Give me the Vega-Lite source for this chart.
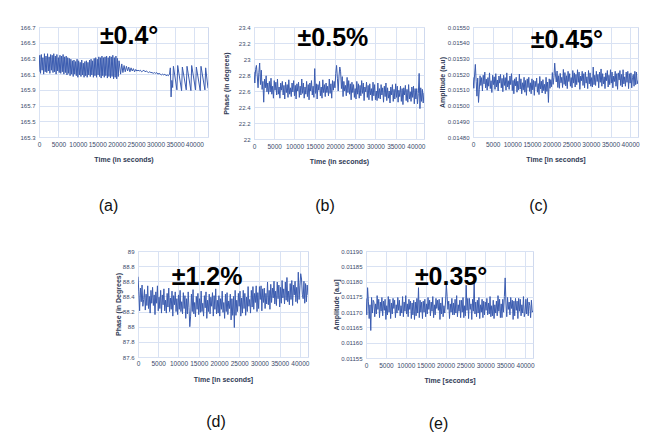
{
"$schema": "https://vega.github.io/schema/vega-lite/v6.json",
"padding": {"left": 19, "top": 23, "right": 0, "bottom": 0},
"background": "white",
"config": {
  "view": {"stroke": "#cfd9ee", "strokeWidth": 1},
  "axis": {"grid": true, "gridColor": "#d9e2f3", "gridWidth": 1, "domain": false, "ticks": false, "tickCount": 20, "labelFont": "Liberation Sans", "labelFontSize": 6.5, "labelColor": "#3b4a6b", "labelPadding": 4, "labelFlush": false, "labelOverlap": false, "titleFont": "Liberation Sans", "titleFontSize": 7, "titleFontWeight": "bold", "titleColor": "#2f3a55"},
  "axisX": {"titlePadding": 8},
  "axisY": {"titlePadding": 3, "labelFontSize": 6},
  "title": {"orient": "bottom", "anchor": "middle", "frame": "group", "font": "Liberation Sans", "fontSize": 16, "fontWeight": "normal", "color": "#111111"},
  "text": {"font": "Liberation Sans"}
},
"datasets": {
"a": [
{"t":0,"v":166.13},{"t":200,"v":166.34},{"t":400,"v":166.11},{"t":600,"v":166.35},{"t":800,"v":166.15},{"t":1000,"v":166.31},{"t":1200,"v":166.10},{"t":1400,"v":166.36},{"t":1600,"v":166.13},{"t":1800,"v":166.33},
{"t":2000,"v":166.12},{"t":2200,"v":166.36},{"t":2400,"v":166.14},{"t":2600,"v":166.32},{"t":2800,"v":166.11},{"t":3000,"v":166.35},{"t":3200,"v":166.15},{"t":3400,"v":166.34},{"t":3600,"v":166.12},{"t":3800,"v":166.36},
{"t":4000,"v":166.13},{"t":4200,"v":166.33},{"t":4400,"v":166.10},{"t":4600,"v":166.35},{"t":4800,"v":166.14},{"t":5000,"v":166.31},{"t":5200,"v":166.12},{"t":5400,"v":166.34},{"t":5600,"v":166.11},{"t":5800,"v":166.33},
{"t":6000,"v":166.13},{"t":6200,"v":166.35},{"t":6400,"v":166.10},{"t":6600,"v":166.32},{"t":6800,"v":166.12},{"t":7000,"v":166.33},{"t":7200,"v":166.09},{"t":7400,"v":166.31},{"t":7600,"v":166.11},{"t":7800,"v":166.30},
{"t":8000,"v":166.08},{"t":8200,"v":166.29},{"t":8400,"v":166.10},{"t":8600,"v":166.27},{"t":8800,"v":166.07},{"t":9000,"v":166.28},{"t":9200,"v":166.10},{"t":9400,"v":166.26},{"t":9600,"v":166.08},{"t":9800,"v":166.29},
{"t":10000,"v":166.06},{"t":10200,"v":166.27},{"t":10400,"v":166.09},{"t":10600,"v":166.25},{"t":10800,"v":166.07},{"t":11000,"v":166.28},{"t":11200,"v":166.09},{"t":11400,"v":166.24},{"t":11600,"v":166.06},{"t":11800,"v":166.26},
{"t":12000,"v":166.08},{"t":12200,"v":166.27},{"t":12400,"v":166.06},{"t":12600,"v":166.25},{"t":12800,"v":166.09},{"t":13000,"v":166.28},{"t":13200,"v":166.07},{"t":13400,"v":166.29},{"t":13600,"v":166.09},{"t":13800,"v":166.27},
{"t":14000,"v":166.06},{"t":14200,"v":166.30},{"t":14400,"v":166.08},{"t":14600,"v":166.31},{"t":14800,"v":166.06},{"t":15000,"v":166.29},{"t":15200,"v":166.09},{"t":15400,"v":166.32},{"t":15600,"v":166.07},{"t":15800,"v":166.31},
{"t":16000,"v":166.05},{"t":16200,"v":166.33},{"t":16400,"v":166.08},{"t":16600,"v":166.31},{"t":16800,"v":166.06},{"t":17000,"v":166.32},{"t":17200,"v":166.08},{"t":17400,"v":166.33},{"t":17600,"v":166.05},{"t":17800,"v":166.31},
{"t":18000,"v":166.07},{"t":18200,"v":166.33},{"t":18400,"v":166.05},{"t":18600,"v":166.32},{"t":18800,"v":166.07},{"t":19000,"v":166.34},{"t":19200,"v":166.04},{"t":19400,"v":166.31},{"t":19600,"v":166.06},{"t":19800,"v":166.33},
{"t":20000,"v":166.04},{"t":20200,"v":166.30},{"t":20400,"v":166.07},{"t":20600,"v":166.27},{"t":21000,"v":166.10},{"t":21300,"v":166.23},{"t":21600,"v":166.12},{"t":21900,"v":166.21},{"t":22200,"v":166.13},{"t":22500,"v":166.20},{"t":22800,"v":166.14},{"t":23100,"v":166.19},{"t":23400,"v":166.13},{"t":23700,"v":166.18},{"t":24000,"v":166.14},{"t":24300,"v":166.17},{"t":24600,"v":166.13},{"t":24900,"v":166.16},{"t":25200,"v":166.14},{"t":25500,"v":166.15},{"t":25800,"v":166.14},{"t":26100,"v":166.15},{"t":26400,"v":166.13},{"t":26700,"v":166.14},{"t":27000,"v":166.15},{"t":27300,"v":166.13},{"t":27600,"v":166.14},{"t":27900,"v":166.13},{"t":28200,"v":166.12},{"t":28500,"v":166.13},{"t":28800,"v":166.12},{"t":29100,"v":166.12},{"t":29400,"v":166.11},{"t":29700,"v":166.12},{"t":30000,"v":166.11},{"t":30300,"v":166.12},{"t":30600,"v":166.10},{"t":30900,"v":166.11},{"t":31200,"v":166.10},{"t":31500,"v":166.09},{"t":31800,"v":166.10},{"t":32100,"v":166.09},{"t":32400,"v":166.10},{"t":32700,"v":166.08},{"t":33000,"v":166.09},{"t":33300,"v":166.08},{"t":33600,"v":166.10},{"t":33800,"v":166.18},{"t":34000,"v":165.81},{"t":34200,"v":166.02},{"t":34400,"v":165.93},{"t":34600,"v":166.20},{"t":35500,"v":165.90},{"t":35700,"v":166.21},{"t":36700,"v":165.89},{"t":36900,"v":166.19},{"t":37900,"v":165.90},{"t":38100,"v":166.20},{"t":39100,"v":165.89},{"t":39300,"v":166.21},{"t":40300,"v":165.90},{"t":40500,"v":166.19},{"t":41500,"v":165.89},{"t":41700,"v":166.20},{"t":42700,"v":165.90},{"t":42900,"v":166.18},{"t":43500,"v":165.92}
],
"b": [
{"t":0,"v":22.84},{"t":200,"v":22.70},{"t":400,"v":22.87},{"t":600,"v":22.92},{"t":800,"v":22.79},{"t":1000,"v":22.64},{"t":1200,"v":22.83},{"t":1400,"v":22.95},{"t":1600,"v":22.68},{"t":1800,"v":22.86},
{"t":2000,"v":22.62},{"t":2200,"v":22.72},{"t":2400,"v":22.46},{"t":2600,"v":22.75},{"t":2800,"v":22.64},{"t":3000,"v":22.79},{"t":3200,"v":22.59},{"t":3400,"v":22.70},{"t":3600,"v":22.56},{"t":3800,"v":22.72},
{"t":4000,"v":22.59},{"t":4200,"v":22.76},{"t":4400,"v":22.56},{"t":4600,"v":22.66},{"t":4800,"v":22.51},{"t":5000,"v":22.73},{"t":5200,"v":22.61},{"t":5400,"v":22.71},{"t":5600,"v":22.55},{"t":5800,"v":22.75},
{"t":6000,"v":22.56},{"t":6200,"v":22.65},{"t":6400,"v":22.51},{"t":6600,"v":22.70},{"t":6800,"v":22.61},{"t":7000,"v":22.72},{"t":7200,"v":22.55},{"t":7400,"v":22.67},{"t":7600,"v":22.50},{"t":7800,"v":22.71},
{"t":8000,"v":22.58},{"t":8200,"v":22.68},{"t":8400,"v":22.52},{"t":8600,"v":22.74},{"t":8800,"v":22.56},{"t":9000,"v":22.64},{"t":9200,"v":22.53},{"t":9400,"v":22.70},{"t":9600,"v":22.59},{"t":9800,"v":22.73},
{"t":10000,"v":22.54},{"t":10200,"v":22.67},{"t":10400,"v":22.50},{"t":10600,"v":22.69},{"t":10800,"v":22.60},{"t":11000,"v":22.71},{"t":11200,"v":22.52},{"t":11400,"v":22.66},{"t":11600,"v":22.55},{"t":11800,"v":22.75},
{"t":12000,"v":22.57},{"t":12200,"v":22.70},{"t":12400,"v":22.51},{"t":12600,"v":22.65},{"t":12800,"v":22.56},{"t":13000,"v":22.72},{"t":13200,"v":22.53},{"t":13400,"v":22.68},{"t":13600,"v":22.49},{"t":13800,"v":22.70},
{"t":14000,"v":22.60},{"t":14200,"v":22.73},{"t":14400,"v":22.55},{"t":14600,"v":22.66},{"t":14800,"v":22.52},{"t":15000,"v":22.88},{"t":15200,"v":22.57},{"t":15400,"v":22.69},{"t":15600,"v":22.50},{"t":15800,"v":22.68},
{"t":16000,"v":22.61},{"t":16200,"v":22.72},{"t":16400,"v":22.54},{"t":16600,"v":22.65},{"t":16800,"v":22.51},{"t":17000,"v":22.74},{"t":17200,"v":22.58},{"t":17400,"v":22.68},{"t":17600,"v":22.53},{"t":17800,"v":22.70},
{"t":18000,"v":22.58},{"t":18200,"v":22.66},{"t":18400,"v":22.54},{"t":18600,"v":22.75},{"t":18800,"v":22.57},{"t":19000,"v":22.69},{"t":19200,"v":22.51},{"t":19400,"v":22.73},{"t":19600,"v":22.61},{"t":19800,"v":22.72},
{"t":20000,"v":22.64},{"t":20200,"v":22.82},{"t":20400,"v":22.92},{"t":20600,"v":22.76},{"t":20800,"v":22.60},{"t":21000,"v":22.79},{"t":21200,"v":22.90},{"t":21400,"v":22.84},{"t":21600,"v":22.63},{"t":21800,"v":22.78},
{"t":22000,"v":22.53},{"t":22200,"v":22.72},{"t":22400,"v":22.60},{"t":22600,"v":22.67},{"t":22800,"v":22.54},{"t":23000,"v":22.77},{"t":23200,"v":22.58},{"t":23400,"v":22.73},{"t":23600,"v":22.56},{"t":23800,"v":22.69},
{"t":24000,"v":22.49},{"t":24200,"v":22.71},{"t":24400,"v":22.58},{"t":24600,"v":22.68},{"t":24800,"v":22.52},{"t":25000,"v":22.63},{"t":25200,"v":22.50},{"t":25400,"v":22.72},{"t":25600,"v":22.56},{"t":25800,"v":22.69},
{"t":26000,"v":22.51},{"t":26200,"v":22.67},{"t":26400,"v":22.54},{"t":26600,"v":22.73},{"t":26800,"v":22.57},{"t":27000,"v":22.70},{"t":27200,"v":22.48},{"t":27400,"v":22.65},{"t":27600,"v":22.59},{"t":27800,"v":22.71},
{"t":28000,"v":22.52},{"t":28200,"v":22.67},{"t":28400,"v":22.49},{"t":28600,"v":22.69},{"t":28800,"v":22.55},{"t":29000,"v":22.63},{"t":29200,"v":22.48},{"t":29400,"v":22.71},{"t":29600,"v":22.54},{"t":29800,"v":22.68},
{"t":30000,"v":22.49},{"t":30200,"v":22.60},{"t":30400,"v":22.48},{"t":30600,"v":22.70},{"t":30800,"v":22.51},{"t":31000,"v":22.63},{"t":31200,"v":22.50},{"t":31400,"v":22.68},{"t":31600,"v":22.55},{"t":31800,"v":22.64},
{"t":32000,"v":22.46},{"t":32200,"v":22.66},{"t":32400,"v":22.53},{"t":32600,"v":22.70},{"t":32800,"v":22.48},{"t":33000,"v":22.64},{"t":33200,"v":22.51},{"t":33400,"v":22.60},{"t":33600,"v":22.45},{"t":33800,"v":22.65},
{"t":34000,"v":22.55},{"t":34200,"v":22.68},{"t":34400,"v":22.47},{"t":34600,"v":22.62},{"t":34800,"v":22.50},{"t":35000,"v":22.69},{"t":35200,"v":22.52},{"t":35400,"v":22.66},{"t":35600,"v":22.46},{"t":35800,"v":22.61},
{"t":36000,"v":22.53},{"t":36200,"v":22.66},{"t":36400,"v":22.47},{"t":36600,"v":22.63},{"t":36800,"v":22.43},{"t":37000,"v":22.64},{"t":37200,"v":22.55},{"t":37400,"v":22.67},{"t":37600,"v":22.48},{"t":37800,"v":22.62},
{"t":38000,"v":22.46},{"t":38200,"v":22.68},{"t":38400,"v":22.50},{"t":38600,"v":22.59},{"t":38800,"v":22.47},{"t":39000,"v":22.65},{"t":39200,"v":22.52},{"t":39400,"v":22.66},{"t":39600,"v":22.44},{"t":39800,"v":22.63},
{"t":40000,"v":22.50},{"t":40200,"v":22.63},{"t":40400,"v":22.44},{"t":40600,"v":22.57},{"t":40800,"v":22.82},{"t":41000,"v":22.38},{"t":41200,"v":22.64},{"t":41400,"v":22.47},{"t":41600,"v":22.62},{"t":41800,"v":22.45},
{"t":42000,"v":22.58}
],
"c": [
{"t":0,"v":0.015180},{"t":200,"v":0.015110},{"t":400,"v":0.015195},{"t":600,"v":0.015262},{"t":800,"v":0.015155},{"t":1000,"v":0.015060},{"t":1200,"v":0.015175},{"t":1400,"v":0.015020},{"t":1600,"v":0.015100},{"t":1800,"v":0.015190},
{"t":2000,"v":0.015128},{"t":2200,"v":0.015178},{"t":2400,"v":0.015093},{"t":2600,"v":0.015193},{"t":2800,"v":0.015138},{"t":3000,"v":0.015213},{"t":3200,"v":0.015113},{"t":3400,"v":0.015168},{"t":3600,"v":0.015098},{"t":3800,"v":0.015178},
{"t":4000,"v":0.015123},{"t":4200,"v":0.015208},{"t":4400,"v":0.015108},{"t":4600,"v":0.015158},{"t":4800,"v":0.015083},{"t":5000,"v":0.015193},{"t":5200,"v":0.015133},{"t":5400,"v":0.015183},{"t":5600,"v":0.015103},{"t":5800,"v":0.015203},
{"t":6000,"v":0.015118},{"t":6200,"v":0.015163},{"t":6400,"v":0.015093},{"t":6600,"v":0.015188},{"t":6800,"v":0.015143},{"t":7000,"v":0.015198},{"t":7200,"v":0.015113},{"t":7400,"v":0.015173},{"t":7600,"v":0.015088},{"t":7800,"v":0.015193},
{"t":8000,"v":0.015128},{"t":8200,"v":0.015178},{"t":8400,"v":0.015098},{"t":8600,"v":0.015208},{"t":8800,"v":0.015118},{"t":9000,"v":0.015158},{"t":9200,"v":0.015103},{"t":9400,"v":0.015188},{"t":9600,"v":0.015133},{"t":9800,"v":0.015203},
{"t":10000,"v":0.015095},{"t":10200,"v":0.015160},{"t":10400,"v":0.015075},{"t":10600,"v":0.015170},{"t":10800,"v":0.015125},{"t":11000,"v":0.015180},{"t":11200,"v":0.015085},{"t":11400,"v":0.015155},{"t":11600,"v":0.015100},{"t":11800,"v":0.015200},
{"t":12000,"v":0.015105},{"t":12200,"v":0.015170},{"t":12400,"v":0.015075},{"t":12600,"v":0.015145},{"t":12800,"v":0.015100},{"t":13000,"v":0.015180},{"t":13200,"v":0.015085},{"t":13400,"v":0.015160},{"t":13600,"v":0.015065},{"t":13800,"v":0.015170},
{"t":14000,"v":0.015115},{"t":14200,"v":0.015180},{"t":14400,"v":0.015090},{"t":14600,"v":0.015145},{"t":14800,"v":0.015075},{"t":15000,"v":0.015170},{"t":15200,"v":0.015100},{"t":15400,"v":0.015160},{"t":15600,"v":0.015065},{"t":15800,"v":0.015155},
{"t":16000,"v":0.015120},{"t":16200,"v":0.015175},{"t":16400,"v":0.015085},{"t":16600,"v":0.015140},{"t":16800,"v":0.015070},{"t":17000,"v":0.015185},{"t":17200,"v":0.015105},{"t":17400,"v":0.015155},{"t":17600,"v":0.015080},{"t":17800,"v":0.015165},
{"t":18000,"v":0.015095},{"t":18200,"v":0.015135},{"t":18400,"v":0.015075},{"t":18600,"v":0.015180},{"t":18800,"v":0.015090},{"t":19000,"v":0.015150},{"t":19200,"v":0.015020},{"t":19400,"v":0.015170},{"t":19600,"v":0.015110},{"t":19800,"v":0.015165},
{"t":20000,"v":0.015120},{"t":20200,"v":0.015210},{"t":20400,"v":0.015135},{"t":20600,"v":0.015180},{"t":20800,"v":0.015270},{"t":21000,"v":0.015195},{"t":21200,"v":0.015150},{"t":21400,"v":0.015220},{"t":21600,"v":0.015115},{"t":21800,"v":0.015190},
{"t":22000,"v":0.015110},{"t":22200,"v":0.015205},{"t":22400,"v":0.015145},{"t":22600,"v":0.015180},{"t":22800,"v":0.015115},{"t":23000,"v":0.015230},{"t":23200,"v":0.015135},{"t":23400,"v":0.015210},{"t":23600,"v":0.015125},{"t":23800,"v":0.015190},
{"t":24000,"v":0.015108},{"t":24200,"v":0.015218},{"t":24400,"v":0.015153},{"t":24600,"v":0.015203},{"t":24800,"v":0.015123},{"t":25000,"v":0.015178},{"t":25200,"v":0.015113},{"t":25400,"v":0.015223},{"t":25600,"v":0.015143},{"t":25800,"v":0.015208},
{"t":26000,"v":0.015118},{"t":26200,"v":0.015198},{"t":26400,"v":0.015133},{"t":26600,"v":0.015228},{"t":26800,"v":0.015148},{"t":27000,"v":0.015213},{"t":27200,"v":0.015103},{"t":27400,"v":0.015188},{"t":27600,"v":0.015158},{"t":27800,"v":0.015218},
{"t":28000,"v":0.015128},{"t":28200,"v":0.015203},{"t":28400,"v":0.015113},{"t":28600,"v":0.015213},{"t":28800,"v":0.015143},{"t":29000,"v":0.015183},{"t":29200,"v":0.015108},{"t":29400,"v":0.015223},{"t":29600,"v":0.015138},{"t":29800,"v":0.015208},
{"t":30000,"v":0.015123},{"t":30200,"v":0.015178},{"t":30400,"v":0.015118},{"t":30600,"v":0.015245},{"t":30800,"v":0.015133},{"t":31000,"v":0.015193},{"t":31200,"v":0.015128},{"t":31400,"v":0.015218},{"t":31600,"v":0.015153},{"t":31800,"v":0.015198},
{"t":32000,"v":0.015113},{"t":32200,"v":0.015213},{"t":32400,"v":0.015148},{"t":32600,"v":0.015233},{"t":32800,"v":0.015123},{"t":33000,"v":0.015203},{"t":33200,"v":0.015138},{"t":33400,"v":0.015183},{"t":33600,"v":0.015108},{"t":33800,"v":0.015208},
{"t":34000,"v":0.015158},{"t":34200,"v":0.015223},{"t":34400,"v":0.015118},{"t":34600,"v":0.015193},{"t":34800,"v":0.015133},{"t":35000,"v":0.015228},{"t":35200,"v":0.015143},{"t":35400,"v":0.015213},{"t":35600,"v":0.015113},{"t":35800,"v":0.015188},
{"t":36000,"v":0.015153},{"t":36200,"v":0.015218},{"t":36400,"v":0.015123},{"t":36600,"v":0.015203},{"t":36800,"v":0.015103},{"t":37000,"v":0.015208},{"t":37200,"v":0.015163},{"t":37400,"v":0.015223},{"t":37600,"v":0.015128},{"t":37800,"v":0.015198},
{"t":38000,"v":0.015118},{"t":38200,"v":0.015228},{"t":38400,"v":0.015138},{"t":38600,"v":0.015183},{"t":38800,"v":0.015123},{"t":39000,"v":0.015213},{"t":39200,"v":0.015148},{"t":39400,"v":0.015218},{"t":39600,"v":0.015108},{"t":39800,"v":0.015203},
{"t":40000,"v":0.015143},{"t":40200,"v":0.015208},{"t":40400,"v":0.015113},{"t":40600,"v":0.015178},{"t":40800,"v":0.015198},{"t":41000,"v":0.015123},{"t":41200,"v":0.015218},{"t":41400,"v":0.015133},{"t":41600,"v":0.015213},{"t":41800,"v":0.015138},
{"t":42000,"v":0.015160}
],
"d": [
{"t":0,"v":88.66},{"t":200,"v":88.46},{"t":400,"v":88.21},{"t":600,"v":88.51},{"t":800,"v":88.33},{"t":1000,"v":88.55},{"t":1200,"v":88.27},{"t":1400,"v":88.36},{"t":1600,"v":88.49},{"t":1800,"v":88.22},
{"t":2000,"v":88.43},{"t":2200,"v":88.28},{"t":2400,"v":88.54},{"t":2600,"v":88.24},{"t":2800,"v":88.40},{"t":3000,"v":88.18},{"t":3200,"v":88.48},{"t":3400,"v":88.31},{"t":3600,"v":88.52},{"t":3800,"v":88.28},
{"t":4000,"v":88.42},{"t":4200,"v":88.16},{"t":4400,"v":88.46},{"t":4600,"v":88.31},{"t":4800,"v":88.54},{"t":5000,"v":88.21},{"t":5200,"v":88.39},{"t":5400,"v":88.24},{"t":5600,"v":88.48},{"t":5800,"v":88.18},
{"t":6000,"v":88.42},{"t":6200,"v":88.29},{"t":6400,"v":88.50},{"t":6600,"v":88.21},{"t":6800,"v":88.35},{"t":7000,"v":88.18},{"t":7200,"v":88.44},{"t":7400,"v":88.26},{"t":7600,"v":88.51},{"t":7800,"v":88.20},
{"t":8000,"v":88.38},{"t":8200,"v":88.23},{"t":8400,"v":88.47},{"t":8600,"v":88.14},{"t":8800,"v":88.41},{"t":9000,"v":88.29},{"t":9200,"v":88.46},{"t":9400,"v":88.20},{"t":9600,"v":88.37},{"t":9800,"v":88.16},
{"t":10000,"v":88.42},{"t":10200,"v":88.23},{"t":10400,"v":88.48},{"t":10600,"v":88.20},{"t":10800,"v":88.33},{"t":11000,"v":88.17},{"t":11200,"v":88.45},{"t":11400,"v":88.24},{"t":11600,"v":88.41},{"t":11800,"v":88.11},
{"t":12000,"v":88.37},{"t":12200,"v":88.17},{"t":12400,"v":88.46},{"t":12600,"v":88.25},{"t":12800,"v":88.00},{"t":13000,"v":88.14},{"t":13200,"v":88.43},{"t":13400,"v":88.20},{"t":13600,"v":88.49},{"t":13800,"v":88.17},
{"t":14000,"v":88.32},{"t":14200,"v":88.13},{"t":14400,"v":88.40},{"t":14600,"v":88.23},{"t":14800,"v":88.44},{"t":15000,"v":88.16},{"t":15200,"v":88.37},{"t":15400,"v":88.19},{"t":15600,"v":88.47},{"t":15800,"v":88.20},
{"t":16000,"v":88.31},{"t":16200,"v":88.14},{"t":16400,"v":88.41},{"t":16600,"v":88.25},{"t":16800,"v":88.46},{"t":17000,"v":88.11},{"t":17200,"v":88.35},{"t":17400,"v":88.20},{"t":17600,"v":88.43},{"t":17800,"v":88.17},
{"t":18000,"v":88.39},{"t":18200,"v":88.27},{"t":18400,"v":88.45},{"t":18600,"v":88.14},{"t":18800,"v":88.41},{"t":19000,"v":88.23},{"t":19200,"v":88.50},{"t":19400,"v":88.17},{"t":19600,"v":88.35},{"t":19800,"v":88.18},
{"t":20000,"v":88.41},{"t":20200,"v":88.14},{"t":20400,"v":88.37},{"t":20600,"v":88.23},{"t":20800,"v":88.47},{"t":21000,"v":88.19},{"t":21200,"v":88.32},{"t":21400,"v":88.11},{"t":21600,"v":88.43},{"t":21800,"v":88.20},
{"t":22000,"v":88.45},{"t":22200,"v":88.16},{"t":22400,"v":88.34},{"t":22600,"v":88.24},{"t":22800,"v":88.43},{"t":23000,"v":88.09},{"t":23200,"v":88.37},{"t":23400,"v":88.15},{"t":23600,"v":88.40},{"t":23800,"v":87.99},
{"t":24000,"v":88.48},{"t":24200,"v":88.15},{"t":24400,"v":88.35},{"t":24600,"v":88.20},{"t":24800,"v":88.44},{"t":25000,"v":88.27},{"t":25200,"v":88.47},{"t":25400,"v":88.14},{"t":25600,"v":88.38},{"t":25800,"v":88.18},
{"t":26000,"v":88.48},{"t":26200,"v":88.24},{"t":26400,"v":88.44},{"t":26600,"v":88.15},{"t":26800,"v":88.39},{"t":27000,"v":88.20},{"t":27200,"v":88.53},{"t":27400,"v":88.27},{"t":27600,"v":88.36},{"t":27800,"v":88.18},
{"t":28000,"v":88.48},{"t":28200,"v":88.26},{"t":28400,"v":88.53},{"t":28600,"v":88.23},{"t":28800,"v":88.44},{"t":29000,"v":88.32},{"t":29200,"v":88.54},{"t":29400,"v":88.20},{"t":29600,"v":88.45},{"t":29800,"v":88.24},
{"t":30000,"v":88.53},{"t":30200,"v":88.36},{"t":30400,"v":88.54},{"t":30600,"v":88.21},{"t":30800,"v":88.50},{"t":31000,"v":88.32},{"t":31200,"v":88.51},{"t":31400,"v":88.24},{"t":31600,"v":88.44},{"t":31800,"v":88.30},
{"t":32000,"v":88.59},{"t":32200,"v":88.29},{"t":32400,"v":88.48},{"t":32600,"v":88.23},{"t":32800,"v":88.56},{"t":33000,"v":88.32},{"t":33200,"v":88.51},{"t":33400,"v":88.38},{"t":33600,"v":88.60},{"t":33800,"v":88.30},
{"t":34000,"v":88.47},{"t":34200,"v":88.28},{"t":34400,"v":88.59},{"t":34600,"v":88.37},{"t":34800,"v":88.55},{"t":35000,"v":88.26},{"t":35200,"v":88.52},{"t":35400,"v":88.31},{"t":35600,"v":88.61},{"t":35800,"v":88.38},
{"t":36000,"v":88.50},{"t":36200,"v":88.30},{"t":36400,"v":88.59},{"t":36600,"v":88.35},{"t":36800,"v":88.65},{"t":37000,"v":88.33},{"t":37200,"v":88.47},{"t":37400,"v":88.29},{"t":37600,"v":88.57},{"t":37800,"v":88.36},
{"t":38000,"v":88.61},{"t":38200,"v":88.28},{"t":38400,"v":88.55},{"t":38600,"v":88.42},{"t":38800,"v":88.60},{"t":39000,"v":88.33},{"t":39200,"v":88.52},{"t":39400,"v":88.31},{"t":39600,"v":88.72},{"t":39800,"v":88.36},
{"t":40000,"v":88.54},{"t":40200,"v":88.70},{"t":40400,"v":88.63},{"t":40600,"v":88.43},{"t":40800,"v":88.37},{"t":41000,"v":88.60},{"t":41200,"v":88.31},{"t":41400,"v":88.57},{"t":41600,"v":88.33},{"t":41800,"v":88.55},
{"t":42000,"v":88.42}
],
"e": [
{"t":0,"v":0.011745},{"t":200,"v":0.011691},{"t":400,"v":0.011780},{"t":600,"v":0.011736},{"t":800,"v":0.011679},{"t":1000,"v":0.011724},{"t":1200,"v":0.011640},{"t":1400,"v":0.011748},{"t":1600,"v":0.011697},{"t":1800,"v":0.011739},
{"t":2000,"v":0.011733},{"t":2200,"v":0.011685},{"t":2400,"v":0.011727},{"t":2600,"v":0.011694},{"t":2800,"v":0.011754},{"t":3000,"v":0.011709},{"t":3200,"v":0.011742},{"t":3400,"v":0.011682},{"t":3600,"v":0.011733},{"t":3800,"v":0.011703},
{"t":4000,"v":0.011748},{"t":4200,"v":0.011688},{"t":4400,"v":0.011736},{"t":4600,"v":0.011706},{"t":4800,"v":0.011742},{"t":5000,"v":0.011676},{"t":5200,"v":0.011721},{"t":5400,"v":0.011691},{"t":5600,"v":0.011751},{"t":5800,"v":0.011700},
{"t":6000,"v":0.011742},{"t":6200,"v":0.011679},{"t":6400,"v":0.011730},{"t":6600,"v":0.011694},{"t":6800,"v":0.011745},{"t":7000,"v":0.011712},{"t":7200,"v":0.011739},{"t":7400,"v":0.011682},{"t":7600,"v":0.011724},{"t":7800,"v":0.011697},
{"t":8000,"v":0.011748},{"t":8200,"v":0.011706},{"t":8400,"v":0.011739},{"t":8600,"v":0.011688},{"t":8800,"v":0.011721},{"t":9000,"v":0.011697},{"t":9200,"v":0.011751},{"t":9400,"v":0.011685},{"t":9600,"v":0.011733},{"t":9800,"v":0.011703},
{"t":10000,"v":0.011754},{"t":10200,"v":0.011694},{"t":10400,"v":0.011727},{"t":10600,"v":0.011685},{"t":10800,"v":0.011742},{"t":11000,"v":0.011709},{"t":11200,"v":0.011736},{"t":11400,"v":0.011679},{"t":11600,"v":0.011730},{"t":11800,"v":0.011691},
{"t":12000,"v":0.011739},{"t":12200,"v":0.011676},{"t":12400,"v":0.011733},{"t":12600,"v":0.011688},{"t":12800,"v":0.011745},{"t":13000,"v":0.011697},{"t":13200,"v":0.011780},{"t":13400,"v":0.011682},{"t":13600,"v":0.011739},{"t":13800,"v":0.011700},
{"t":14000,"v":0.011733},{"t":14200,"v":0.011679},{"t":14400,"v":0.011736},{"t":14600,"v":0.011700},{"t":14800,"v":0.011742},{"t":15000,"v":0.011685},{"t":15200,"v":0.011727},{"t":15400,"v":0.011694},{"t":15600,"v":0.011748},{"t":15800,"v":0.011709},
{"t":16000,"v":0.011739},{"t":16200,"v":0.011688},{"t":16400,"v":0.011733},{"t":16600,"v":0.011703},{"t":16800,"v":0.011751},{"t":17000,"v":0.011682},{"t":17200,"v":0.011724},{"t":17400,"v":0.011691},{"t":17600,"v":0.011745},{"t":17800,"v":0.011712},
{"t":18000,"v":0.011739},{"t":18200,"v":0.011706},{"t":18400,"v":0.011742},{"t":18600,"v":0.011676},{"t":18800,"v":0.011730},{"t":19000,"v":0.011694},{"t":19200,"v":0.011748},{"t":19400,"v":0.011685},{"t":19600,"v":0.011721},{"t":19800,"v":0.011697},
{"t":20000,"v":0.011733},{"t":20200,"v":0.011792},{"t":20400,"v":0.011751},{"t":20600,"v":0.011709},{"t":20800,"v":0.011736},{"t":21000,"v":0.011679},{"t":21200,"v":0.011727},{"t":21400,"v":0.011700},{"t":21600,"v":0.011745},{"t":21800,"v":0.011691},
{"t":22000,"v":0.011730},{"t":22200,"v":0.011691},{"t":22400,"v":0.011742},{"t":22600,"v":0.011697},{"t":22800,"v":0.011754},{"t":23000,"v":0.011685},{"t":23200,"v":0.011724},{"t":23400,"v":0.011703},{"t":23600,"v":0.011739},{"t":23800,"v":0.011682},
{"t":24000,"v":0.011739},{"t":24200,"v":0.011700},{"t":24400,"v":0.011748},{"t":24600,"v":0.011682},{"t":24800,"v":0.011721},{"t":25000,"v":0.011688},{"t":25200,"v":0.011788},{"t":25400,"v":0.011706},{"t":25600,"v":0.011745},{"t":25800,"v":0.011679},
{"t":26000,"v":0.011745},{"t":26200,"v":0.011709},{"t":26400,"v":0.011727},{"t":26600,"v":0.011676},{"t":26800,"v":0.011742},{"t":27000,"v":0.011703},{"t":27200,"v":0.011795},{"t":27400,"v":0.011694},{"t":27600,"v":0.011733},{"t":27800,"v":0.011685},
{"t":28000,"v":0.011739},{"t":28200,"v":0.011697},{"t":28400,"v":0.011748},{"t":28600,"v":0.011679},{"t":28800,"v":0.011724},{"t":29000,"v":0.011700},{"t":29200,"v":0.011742},{"t":29400,"v":0.011682},{"t":29600,"v":0.011736},{"t":29800,"v":0.011691},
{"t":30000,"v":0.011733},{"t":30200,"v":0.011706},{"t":30400,"v":0.011745},{"t":30600,"v":0.011691},{"t":30800,"v":0.011730},{"t":31000,"v":0.011694},{"t":31200,"v":0.011751},{"t":31400,"v":0.011685},{"t":31600,"v":0.011721},{"t":31800,"v":0.011688},
{"t":32000,"v":0.011739},{"t":32200,"v":0.011679},{"t":32400,"v":0.011724},{"t":32600,"v":0.011697},{"t":32800,"v":0.011736},{"t":33000,"v":0.011688},{"t":33200,"v":0.011754},{"t":33400,"v":0.011703},{"t":33600,"v":0.011742},{"t":33800,"v":0.011682},
{"t":34000,"v":0.011727},{"t":34200,"v":0.011682},{"t":34400,"v":0.011742},{"t":34600,"v":0.011700},{"t":34800,"v":0.011751},{"t":35000,"v":0.011812},{"t":35200,"v":0.011730},{"t":35400,"v":0.011685},{"t":35600,"v":0.011748},{"t":35800,"v":0.011709},
{"t":36000,"v":0.011733},{"t":36200,"v":0.011691},{"t":36400,"v":0.011748},{"t":36600,"v":0.011712},{"t":36800,"v":0.011739},{"t":37000,"v":0.011676},{"t":37200,"v":0.011736},{"t":37400,"v":0.011688},{"t":37600,"v":0.011745},{"t":37800,"v":0.011706},
{"t":38000,"v":0.011736},{"t":38200,"v":0.011679},{"t":38400,"v":0.011745},{"t":38600,"v":0.011703},{"t":38800,"v":0.011742},{"t":39000,"v":0.011688},{"t":39200,"v":0.011724},{"t":39400,"v":0.011697},{"t":39600,"v":0.011751},{"t":39800,"v":0.011685},
{"t":40000,"v":0.011697},{"t":40200,"v":0.011742},{"t":40400,"v":0.011694},{"t":40600,"v":0.011745},{"t":40800,"v":0.011688},{"t":41000,"v":0.011733},{"t":41200,"v":0.011721},{"t":41400,"v":0.011682},{"t":41600,"v":0.011739},{"t":41800,"v":0.011700},
{"t":42000,"v":0.011705}
]
},
"vconcat": [
{
"hconcat": [
{
"width": 169, "height": 110,
"title": {"text": "(a)", "dx": -15, "offset": 35},
"layer": [
{"data": {"name": "a"}, "mark": {"type": "line", "color": "#3b5cb0", "strokeWidth": 1, "clip": true},
 "encoding": {
  "x": {"field": "t", "type": "quantitative", "scale": {"domain": [0, 43500], "nice": false}, "axis": {"values": [0,5000,10000,15000,20000,25000,30000,35000,40000], "format": "d", "title": "Time (in seconds)"}},
  "y": {"field": "v", "type": "quantitative", "scale": {"domain": [165.3, 166.7], "nice": false, "zero": false}, "axis": {"values": [165.3,165.5,165.7,165.9,166.1,166.3,166.5,166.7], "format": ".1f", "title": null}}
 }},
{"data": {"values": [{}]}, "mark": {"type": "text", "fontSize": 25, "fontWeight": "bold", "color": "#000000", "baseline": "middle", "align": "center"},
 "encoding": {"x": {"datum": 23200}, "y": {"datum": 166.58}, "text": {"value": "±0.4°"}}}
]
},
{
"width": 170, "height": 112,
"title": {"text": "(b)", "dx": -14, "offset": 33},
"layer": [
{"data": {"name": "b"}, "mark": {"type": "line", "color": "#3b5cb0", "strokeWidth": 1, "clip": true},
 "encoding": {
  "x": {"field": "t", "type": "quantitative", "scale": {"domain": [0, 42000], "nice": false}, "axis": {"values": [0,5000,10000,15000,20000,25000,30000,35000,40000], "format": "d", "title": "Time (in seconds)"}},
  "y": {"field": "v", "type": "quantitative", "scale": {"domain": [22, 23.4], "nice": false, "zero": false}, "axis": {"values": [22,22.2,22.4,22.6,22.8,23,23.2,23.4], "format": "~g", "title": "Phase (in degrees)", "titlePadding": 9}}
 }},
{"data": {"values": [{}]}, "mark": {"type": "text", "fontSize": 25, "fontWeight": "bold", "color": "#000000", "baseline": "middle", "align": "center"},
 "encoding": {"x": {"datum": 19500}, "y": {"datum": 23.26}, "text": {"value": "±0.5%"}}}
]
},
{
"width": 165, "height": 110,
"title": {"text": "(c)", "dx": -17, "offset": 35},
"layer": [
{"data": {"name": "c"}, "mark": {"type": "line", "color": "#3b5cb0", "strokeWidth": 1, "clip": true},
 "encoding": {
  "x": {"field": "t", "type": "quantitative", "scale": {"domain": [0, 42000], "nice": false}, "axis": {"values": [0,5000,10000,15000,20000,25000,30000,35000,40000], "format": "d", "title": "Time [in seconds]"}},
  "y": {"field": "v", "type": "quantitative", "scale": {"domain": [0.0148, 0.0155], "nice": false, "zero": false}, "axis": {"values": [0.0148,0.0149,0.015,0.0151,0.0152,0.0153,0.0154,0.0155], "format": ".5f", "title": "Amplitude (a.u)", "titlePadding": 1.5}}
 }},
{"data": {"values": [{}]}, "mark": {"type": "text", "fontSize": 25, "fontWeight": "bold", "color": "#000000", "baseline": "middle", "align": "center"},
 "encoding": {"x": {"datum": 23900}, "y": {"datum": 0.015417}, "text": {"value": "±0.45°"}}}
]
}
],
"spacing": 12
},
{
"hconcat": [
{
"width": 52, "height": 10,
"data": {"values": [{}]},
"mark": {"type": "text"},
"encoding": {"text": {"value": ""}},
"view": {"stroke": null}
},
{
"width": 170, "height": 106,
"title": {"text": "(d)", "dx": -7, "offset": 32},
"layer": [
{"data": {"name": "d"}, "mark": {"type": "line", "color": "#3b5cb0", "strokeWidth": 1, "clip": true},
 "encoding": {
  "x": {"field": "t", "type": "quantitative", "scale": {"domain": [0, 42000], "nice": false}, "axis": {"values": [0,5000,10000,15000,20000,25000,30000,35000,40000], "format": "d", "title": "Time [in seconds]", "labelPadding": 3.5}},
  "y": {"field": "v", "type": "quantitative", "scale": {"domain": [87.6, 89], "nice": false, "zero": false}, "axis": {"values": [87.6,87.8,88,88.2,88.4,88.6,88.8,89], "format": "~g", "title": "Phase (in Degrees)", "titlePadding": 1}}
 }},
{"data": {"values": [{}]}, "mark": {"type": "text", "fontSize": 25, "fontWeight": "bold", "color": "#000000", "baseline": "middle", "align": "center"},
 "encoding": {"x": {"datum": 17050}, "y": {"datum": 88.66}, "text": {"value": "±1.2%"}}}
]
},
{
"width": 167, "height": 107,
"title": {"text": "(e)", "dx": -11, "offset": 32},
"layer": [
{"data": {"name": "e"}, "mark": {"type": "line", "color": "#3b5cb0", "strokeWidth": 1, "clip": true},
 "encoding": {
  "x": {"field": "t", "type": "quantitative", "scale": {"domain": [0, 42000], "nice": false}, "axis": {"values": [0,5000,10000,15000,20000,25000,30000,35000,40000], "format": "d", "title": "Time [seconds]"}},
  "y": {"field": "v", "type": "quantitative", "scale": {"domain": [0.01155, 0.0119], "nice": false, "zero": false}, "axis": {"values": [0.01155,0.0116,0.01165,0.0117,0.01175,0.0118,0.01185,0.0119], "format": ".5f", "title": "Amplitude [a.u]", "titlePadding": 1}}
 }},
{"data": {"values": [{}]}, "mark": {"type": "text", "fontSize": 25, "fontWeight": "bold", "color": "#000000", "baseline": "middle", "align": "center"},
 "encoding": {"x": {"datum": 21400}, "y": {"datum": 0.011815}, "text": {"value": "±0.35°"}}}
]
}
],
"spacing": 22
}
],
"spacing": 33
}
